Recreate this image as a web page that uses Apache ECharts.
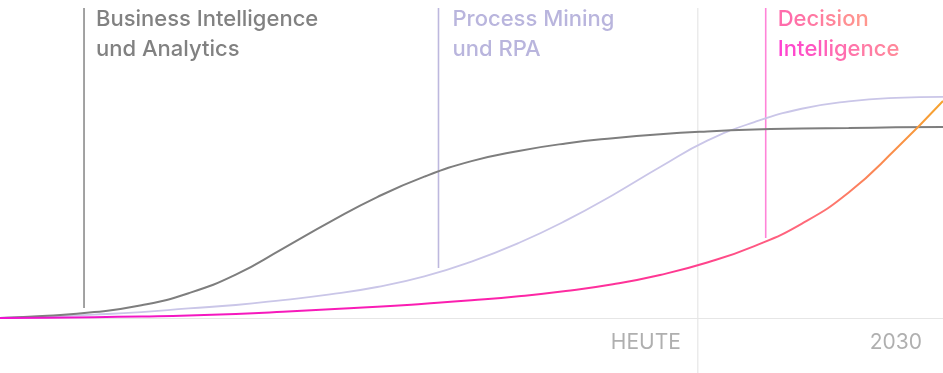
<!DOCTYPE html>
<html><head><meta charset="utf-8">
<script src="https://cdn.jsdelivr.net/npm/echarts@6/dist/echarts.min.js"></script>
<style>html,body{margin:0;padding:0;background:#fff}#c{width:943px;height:373px}</style>
</head><body><div id="c"></div>
<script>
// x positions (0..100 timeline units), y = adoption level (0..100)
const xs = [0,5,10,15,20,25,30,35,40,45,50,55,60,65,70,75,80,85,90,95,100];
const biValues = [0,0.7,1.9,4.1,8.0,14.0,22.4,31.0,39.0,45.6,50.6,53.9,56.3,58.0,59.3,60.2,60.8,61.1,61.3,61.5,61.6];
const pmValues = [0,0.5,1.1,1.9,3.1,4.2,5.8,7.6,10.0,13.4,18.2,24.2,31.4,39.7,48.7,57.2,63.2,67.5,69.9,71.0,71.3];
const diValues = [0,0.1,0.26,0.5,0.8,1.3,2.0,2.8,3.6,4.6,5.7,7.0,8.7,10.9,13.9,17.9,23.2,30.4,40.5,54.5,70.0];
const markerNames = ['Business Intelligence\nund Analytics','Process Mining\nund RPA','Decision\nIntelligence'];
const markerX = [8.91, 46.5, 81.2];
const markerBottom = [3.2, 16.1, 25.8];
const markerTop = 100;
const todayX = 74.0;
const todayLabel = 'HEUTE';
const endLabel = '2030';
const endX = 100;
const axisBottom = -17.74;
const tickLabelY = -8.1;

const chart = echarts.init(document.getElementById('c'), null, {renderer:'canvas'});
const FONT = 'Inter';
const pair = (a)=>xs.map((x,i)=>[x,a[i]]);
const grad = (stops)=>new echarts.graphic.LinearGradient(0,0,1,0,stops);
const markerColors = ['#8c8c8c','#bdb8de','#ff84d8'];
const textColors = ['#616161','#a8a2d4',null];
const textOffsets = [12,14,12];
const baseText = {fontFamily:FONT,fontSize:22,fontWeight:500,lineHeight:30};

// per-character colour ramp for the gradient title
function hex2rgb(h){return [1,3,5].map(i=>parseInt(h.substr(i,2),16));}
function mix(a,b,t){const A=hex2rgb(a),B=hex2rgb(b);return 'rgb('+A.map((v,i)=>Math.round(v+(B[i]-v)*t)).join(',')+')';}
function rampRich(text, lineRamps){
  const rich = {}; let out = []; let n = 0;
  text.split('\n').forEach((line,li)=>{
    const [c0,c1] = lineRamps[li];
    let s = '';
    for (let k=0;k<line.length;k++){
      const key = 'g'+(n++);
      rich[key] = Object.assign({color:mix(c0,c1,line.length>1?k/(line.length-1):0)},baseText);
      s += '{'+key+'|'+line[k]+'}';
    }
    out.push(s);
  });
  return {formatter:out.join('\n'),rich};
}
const diTitle = rampRich(markerNames[2],[['#ff4796','#ff7c72'],['#ff12c6','#ff6a82']]);

const series = [];
series.push({type:'line',data:[[todayX,markerTop],[todayX,axisBottom]],symbol:'none',silent:true,
  lineStyle:{color:'#e6e6e6',width:1.2},z:1});
markerX.forEach((x,i)=>{
  series.push({type:'line',data:[[x,markerTop],[x,markerBottom[i]]],symbol:'none',silent:true,
    lineStyle:{color:markerColors[i],width:1.6},z:2});
});
const smoothOpts = {smooth:0.5,symbol:'none'};
series.push(Object.assign({name:'BI',type:'line',data:pair(biValues),
  lineStyle:{color:'#7e7e7e',width:2},z:5},smoothOpts));
series.push(Object.assign({name:'PM',type:'line',data:pair(pmValues),
  lineStyle:{color:'#cac6e8',width:1.8},z:4},smoothOpts));
series.push(Object.assign({name:'DI',type:'line',data:pair(diValues),
  lineStyle:{width:2,color:grad([{offset:0,color:'#ee12cf'},{offset:0.5,color:'#fc1fae'},{offset:0.72,color:'#ff3a90'},{offset:0.86,color:'#ff6d78'},{offset:1,color:'#f6a52c'}])},z:6},smoothOpts));
markerX.forEach((x,i)=>{
  const lab = Object.assign({show:true,position:[textOffsets[i],-4],align:'left',verticalAlign:'top'},baseText);
  if (textColors[i]) { lab.formatter = markerNames[i]; lab.color = textColors[i]; }
  else { lab.formatter = diTitle.formatter; lab.rich = diTitle.rich; }
  series.push({type:'scatter',data:[[x,markerTop]],symbolSize:0,silent:true,z:10,label:lab});
});
series.push({type:'scatter',data:[[todayX,tickLabelY]],symbolSize:0,silent:true,
  label:{show:true,formatter:todayLabel,position:[-17,0],align:'right',verticalAlign:'middle',
    fontFamily:FONT,fontSize:21,color:'#9b9b9b'}});
series.push({type:'scatter',data:[[endX,tickLabelY]],symbolSize:0,silent:true,
  label:{show:true,formatter:endLabel,position:[-21,0],align:'right',verticalAlign:'middle',
    fontFamily:FONT,fontSize:21,color:'#9b9b9b'}});

chart.setOption({
  animation:false,
  grid:{left:0,right:0,top:8,bottom:0},
  xAxis:{type:'value',min:0,max:100,axisLine:{show:true,onZero:true,lineStyle:{color:'#e6e6e6',width:1.2}},
    axisTick:{show:false},axisLabel:{show:false},splitLine:{show:false}},
  yAxis:{type:'value',min:axisBottom,max:markerTop,show:false,splitLine:{show:false}},
  series
});
</script></body></html>
